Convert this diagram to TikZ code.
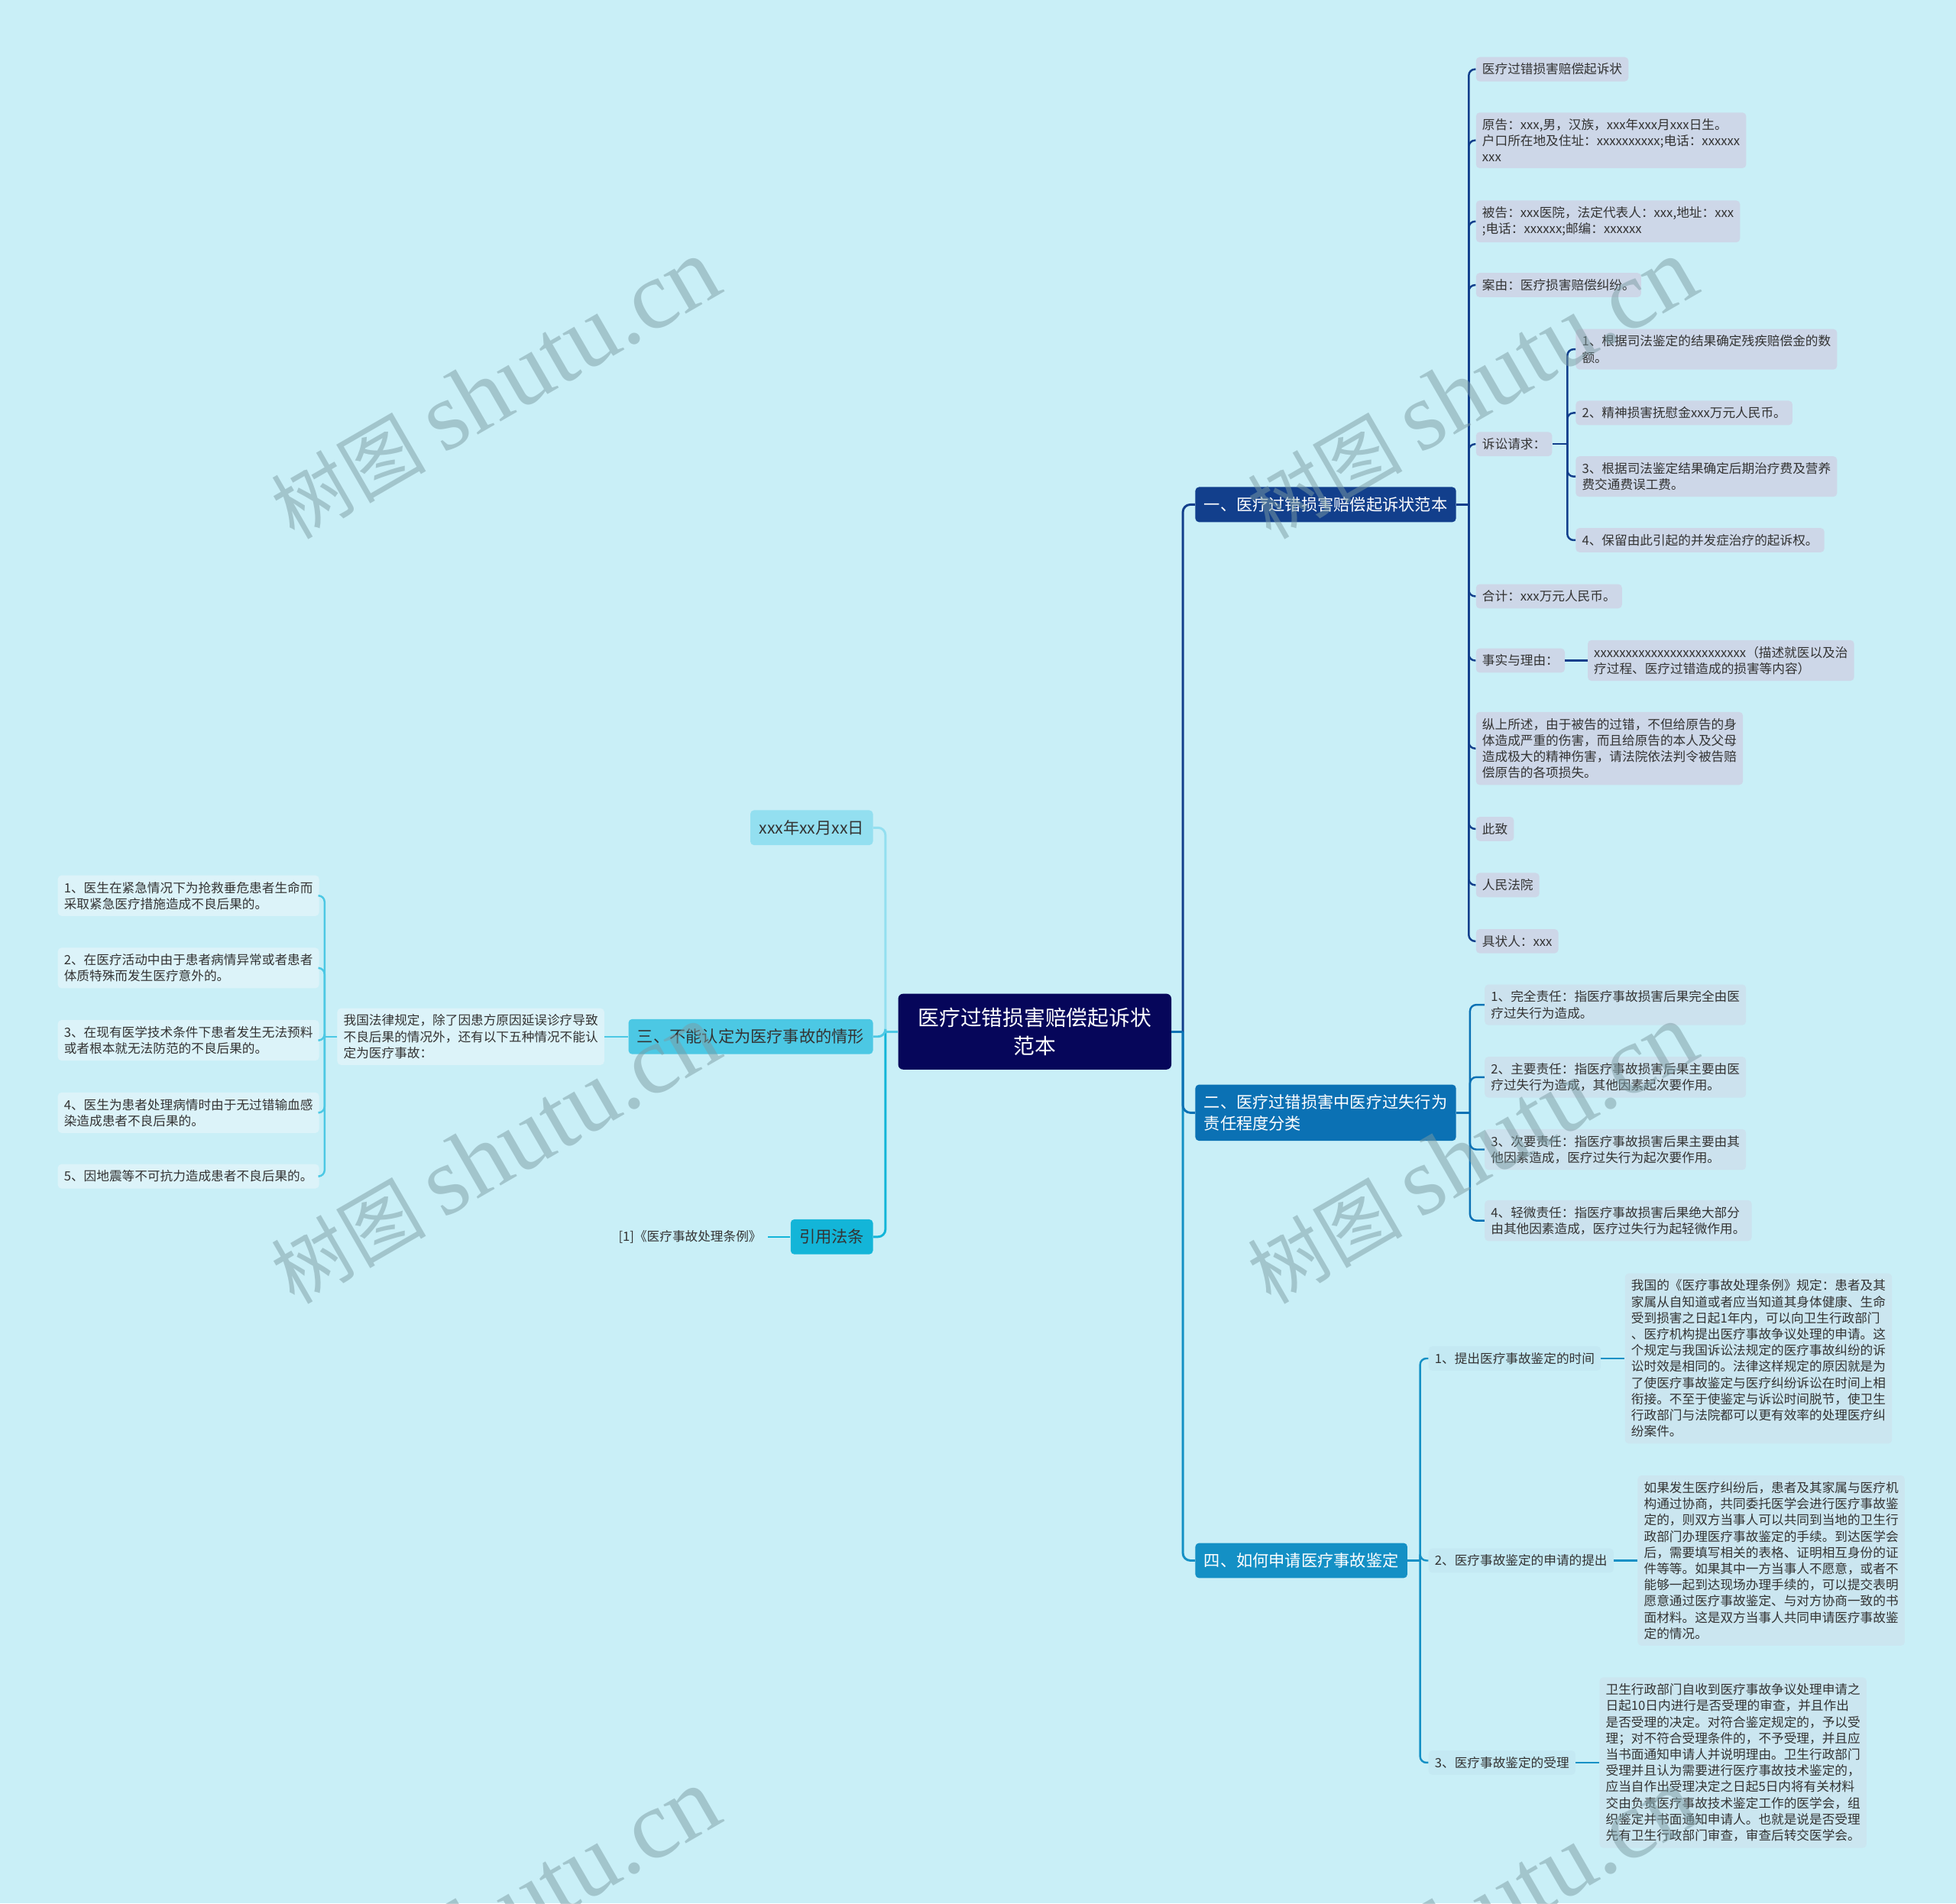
\documentclass[tikz,border=0pt]{standalone}
\usepackage{fontspec}
\setmainfont{Noto Sans CJK SC}
\newfontfamily\wmfont{Liberation Serif}
\usetikzlibrary{positioning}

\definecolor{bgcol}{HTML}{C9EFF7}
\definecolor{rootcol}{HTML}{06065A}
\definecolor{onecol}{HTML}{123F8C}
\definecolor{twocol}{HTML}{0B71B4}
\definecolor{fourcol}{HTML}{1490C5}
\definecolor{threecol}{HTML}{4CC8E4}
\definecolor{datecol}{HTML}{93DFF0}
\definecolor{lawcol}{HTML}{13B5D8}
\definecolor{oneleaf}{HTML}{CDD7E8}
\definecolor{twoleaf}{HTML}{CCE2EE}
\definecolor{fourleaf}{HTML}{C4E9F3}
\definecolor{fourtext}{HTML}{CBE6F0}
\definecolor{threeleaf}{HTML}{DCF3F9}
\definecolor{inkcol}{HTML}{333333}
\definecolor{markcol}{HTML}{7C9CA3}

\tikzset{
  rootbox/.style={fill=rootcol, text=white, rounded corners=4pt, inner xsep=16pt, inner ysep=11pt, align=center, font=\fontsize{17}{23}\selectfont},
  mainbox/.style={rounded corners=3pt, inner xsep=7pt, inner ysep=8pt, align=left, font=\fontsize{13}{17}\selectfont},
  leafbox/.style={rounded corners=3pt, inner xsep=5pt, inner ysep=5pt, align=left, text=inkcol, font=\fontsize{10.2}{13}\selectfont},
  link/.style={line width=1.8pt, rounded corners=6pt},
  sublink/.style={line width=1.5pt, rounded corners=5pt},
  watermark/.style={rotate=30, text=markcol, opacity=0.5}
}

\begin{document}
\begin{tikzpicture}[x=1pt,y=1pt,yscale=-1]
\fill[bgcol] (0,0) rectangle (1568,1526);
\useasboundingbox (0,0) rectangle (1568,1526);

% Root
\node[rootbox] (root) at (829.5,827) {医疗过错损害赔偿起诉状\\范本};

% Right branches
\node[mainbox, fill=onecol, text=white, anchor=west] (one) at (958,404.5) {一、医疗过错损害赔偿起诉状范本};
\node[mainbox, fill=twocol, text=white, anchor=west] (two) at (958,892) {二、医疗过错损害中医疗过失行为\\责任程度分类};
\node[mainbox, fill=fourcol, text=white, anchor=west] (four) at (958,1251) {四、如何申请医疗事故鉴定};

% Left branches
\node[mainbox, fill=datecol, text=inkcol, anchor=east] (date) at (700,663.5) {xxx年xx月xx日};
\node[mainbox, fill=threecol, text=inkcol, anchor=east] (three) at (700,831) {三、不能认定为医疗事故的情形};
\node[mainbox, fill=lawcol, text=inkcol, anchor=east] (law) at (700,991.5) {引用法条};

% Leaves of branch one
\node[leafbox, fill=oneleaf, anchor=west] (o1) at (1183,55.5) {医疗过错损害赔偿起诉状};
\node[leafbox, fill=oneleaf, anchor=west] (o2) at (1183,112.5) {原告：xxx,男，汉族，xxx年xxx月xxx日生。\\户口所在地及住址：xxxxxxxxxx;电话：xxxxxx\\xxx};
\node[leafbox, fill=oneleaf, anchor=west] (o3) at (1183,177.5) {被告：xxx医院，法定代表人：xxx,地址：xxx\\;电话：xxxxxx;邮编：xxxxxx};
\node[leafbox, fill=oneleaf, anchor=west] (o4) at (1183,228.5) {案由：医疗损害赔偿纠纷。};
\node[leafbox, fill=oneleaf, anchor=west] (o5) at (1183,356) {诉讼请求：};
\node[leafbox, fill=oneleaf, anchor=west] (o6) at (1183,478) {合计：xxx万元人民币。};
\node[leafbox, fill=oneleaf, anchor=west] (o7) at (1183,529.5) {事实与理由：};
\node[leafbox, fill=oneleaf, anchor=west] (o8) at (1183,600) {纵上所述，由于被告的过错，不但给原告的身\\体造成严重的伤害，而且给原告的本人及父母\\造成极大的精神伤害，请法院依法判令被告赔\\偿原告的各项损失。};
\node[leafbox, fill=oneleaf, anchor=west] (o9) at (1183,664.5) {此致};
\node[leafbox, fill=oneleaf, anchor=west] (o10) at (1183,709.5) {人民法院};
\node[leafbox, fill=oneleaf, anchor=west] (o11) at (1183,754.5) {具状人：xxx};

% Claims and reasons
\node[leafbox, fill=oneleaf, anchor=west] (c1) at (1263,280) {1、根据司法鉴定的结果确定残疾赔偿金的数\\额。};
\node[leafbox, fill=oneleaf, anchor=west] (c2) at (1263,331) {2、精神损害抚慰金xxx万元人民币。};
\node[leafbox, fill=oneleaf, anchor=west] (c3) at (1263,382) {3、根据司法鉴定结果确定后期治疗费及营养\\费交通费误工费。};
\node[leafbox, fill=oneleaf, anchor=west] (c4) at (1263,433) {4、保留由此引起的并发症治疗的起诉权。};
\node[leafbox, fill=oneleaf, right=18pt of o7] (r1) {xxxxxxxxxxxxxxxxxxxxxxxx（描述就医以及治\\疗过程、医疗过错造成的损害等内容）};

% Leaves of branch two
\node[leafbox, fill=twoleaf, anchor=west] (t1) at (1190,805.5) {1、完全责任：指医疗事故损害后果完全由医\\疗过失行为造成。};
\node[leafbox, fill=twoleaf, anchor=west] (t2) at (1190,863.5) {2、主要责任：指医疗事故损害后果主要由医\\疗过失行为造成，其他因素起次要作用。};
\node[leafbox, fill=twoleaf, anchor=west] (t3) at (1190,921.5) {3、次要责任：指医疗事故损害后果主要由其\\他因素造成，医疗过失行为起次要作用。};
\node[leafbox, fill=twoleaf, anchor=west] (t4) at (1190,978.5) {4、轻微责任：指医疗事故损害后果绝大部分\\由其他因素造成，医疗过失行为起轻微作用。};

% Leaves of branch four
\node[leafbox, fill=fourleaf, anchor=west] (f1) at (1145,1089) {1、提出医疗事故鉴定的时间};
\node[leafbox, fill=fourleaf, anchor=west] (f2) at (1145,1251) {2、医疗事故鉴定的申请的提出};
\node[leafbox, fill=fourleaf, anchor=west] (f3) at (1145,1413) {3、医疗事故鉴定的受理};
\node[leafbox, fill=fourtext, right=19pt of f1] (g1) {我国的《医疗事故处理条例》规定：患者及其\\家属从自知道或者应当知道其身体健康、生命\\受到损害之日起1年内，可以向卫生行政部门\\、医疗机构提出医疗事故争议处理的申请。这\\个规定与我国诉讼法规定的医疗事故纠纷的诉\\讼时效是相同的。法律这样规定的原因就是为\\了使医疗事故鉴定与医疗纠纷诉讼在时间上相\\衔接。不至于使鉴定与诉讼时间脱节，使卫生\\行政部门与法院都可以更有效率的处理医疗纠\\纷案件。};
\node[leafbox, fill=fourtext, right=19pt of f2] (g2) {如果发生医疗纠纷后，患者及其家属与医疗机\\构通过协商，共同委托医学会进行医疗事故鉴\\定的，则双方当事人可以共同到当地的卫生行\\政部门办理医疗事故鉴定的手续。到达医学会\\后，需要填写相关的表格、证明相互身份的证\\件等等。如果其中一方当事人不愿意，或者不\\能够一起到达现场办理手续的，可以提交表明\\愿意通过医疗事故鉴定、与对方协商一致的书\\面材料。这是双方当事人共同申请医疗事故鉴\\定的情况。};
\node[leafbox, fill=fourtext, right=19pt of f3] (g3) {卫生行政部门自收到医疗事故争议处理申请之\\日起10日内进行是否受理的审查，并且作出\\是否受理的决定。对符合鉴定规定的，予以受\\理；对不符合受理条件的，不予受理，并且应\\当书面通知申请人并说明理由。卫生行政部门\\受理并且认为需要进行医疗事故技术鉴定的，\\应当自作出受理决定之日起5日内将有关材料\\交由负责医疗事故技术鉴定工作的医学会，组\\织鉴定并书面通知申请人。也就是说是否受理\\先有卫生行政部门审查，审查后转交医学会。};

% Leaves of branch three
\node[leafbox, fill=threeleaf, left=19pt of three] (h0) {我国法律规定，除了因患方原因延误诊疗导致\\不良后果的情况外，还有以下五种情况不能认\\定为医疗事故：};
\node[leafbox, fill=threeleaf, anchor=east] (h1) at (256,718) {1、医生在紧急情况下为抢救垂危患者生命而\\采取紧急医疗措施造成不良后果的。};
\node[leafbox, fill=threeleaf, anchor=east] (h2) at (256,776) {2、在医疗活动中由于患者病情异常或者患者\\体质特殊而发生医疗意外的。};
\node[leafbox, fill=threeleaf, anchor=east] (h3) at (256,834) {3、在现有医学技术条件下患者发生无法预料\\或者根本就无法防范的不良后果的。};
\node[leafbox, fill=threeleaf, anchor=east] (h4) at (256,892) {4、医生为患者处理病情时由于无过错输血感\\染造成患者不良后果的。};
\node[leafbox, fill=threeleaf, anchor=east] (h5) at (256,943) {5、因地震等不可抗力造成患者不良后果的。};

% Law reference
\node[leafbox, left=18pt of law] (w1) {[1]《医疗事故处理条例》};

% Junctions
\coordinate (rj) at ([xshift=9pt]root.east);
\coordinate (lj) at ([xshift=-10pt]root.west);
\coordinate (onej) at ([xshift=10pt]one.east);
\coordinate (twoj) at ([xshift=11pt]two.east);
\coordinate (fourj) at ([xshift=10pt]four.east);
\coordinate (claimj) at ([xshift=12pt]o5.east);
\coordinate (threej) at ([xshift=-10pt]h0.west);

% Root connectors
\draw[link, fourcol] (rj) |- (four.west);
\draw[link, twocol] (rj) |- (two.west);
\draw[link, onecol] (rj) |- (one.west);
\draw[link, twocol] (root.east) -- (rj);
\draw[link, lawcol] (lj) |- (law.east);
\draw[link, datecol] (lj) |- (date.east);
\draw[link, threecol] (lj) |- (three.east);
\draw[link, threecol] (root.west) -- (lj);

% Branch one connectors
\draw[sublink, onecol] (one.east) -- (onej);
\draw[sublink, onecol] (onej) |- (o1.west);
\draw[sublink, onecol] (onej) |- (o2.west);
\draw[sublink, onecol] (onej) |- (o3.west);
\draw[sublink, onecol] (onej) |- (o4.west);
\draw[sublink, onecol] (onej) |- (o5.west);
\draw[sublink, onecol] (onej) |- (o6.west);
\draw[sublink, onecol] (onej) |- (o7.west);
\draw[sublink, onecol] (onej) |- (o8.west);
\draw[sublink, onecol] (onej) |- (o9.west);
\draw[sublink, onecol] (onej) |- (o10.west);
\draw[sublink, onecol] (onej) |- (o11.west);
\draw[sublink, onecol] (o5.east) -- (claimj);
\draw[sublink, onecol] (claimj) |- (c1.west);
\draw[sublink, onecol] (claimj) |- (c2.west);
\draw[sublink, onecol] (claimj) |- (c3.west);
\draw[sublink, onecol] (claimj) |- (c4.west);
\draw[sublink, onecol] (o7.east) -- (r1.west);

% Branch two connectors
\draw[sublink, twocol] (two.east) -- (twoj);
\draw[sublink, twocol] (twoj) |- (t1.west);
\draw[sublink, twocol] (twoj) |- (t2.west);
\draw[sublink, twocol] (twoj) |- (t3.west);
\draw[sublink, twocol] (twoj) |- (t4.west);

% Branch four connectors
\draw[sublink, fourcol] (four.east) -- (fourj);
\draw[sublink, fourcol] (fourj) |- (f1.west);
\draw[sublink, fourcol] (fourj) |- (f2.west);
\draw[sublink, fourcol] (fourj) |- (f3.west);
\draw[sublink, fourcol] (f1.east) -- (g1.west);
\draw[sublink, fourcol] (f2.east) -- (g2.west);
\draw[sublink, fourcol] (f3.east) -- (g3.west);

% Branch three connectors
\draw[sublink, threecol] (three.west) -- (h0.east);
\draw[sublink, threecol] (threej) |- (h1.east);
\draw[sublink, threecol] (threej) |- (h2.east);
\draw[sublink, threecol] (threej) |- (h3.east);
\draw[sublink, threecol] (threej) |- (h4.east);
\draw[sublink, threecol] (threej) |- (h5.east);
\draw[sublink, threecol] (h0.west) -- (threej);
\draw[sublink, lawcol] (law.west) -- (w1.east);

% Watermarks
\node[watermark] (m1) at (397,312) {\fontsize{62}{62}\selectfont 树图 \wmfont\fontsize{78}{78}\selectfont shutu.cn};
\node[watermark] (m2) at (1180,312) {\fontsize{62}{62}\selectfont 树图 \wmfont\fontsize{78}{78}\selectfont shutu.cn};
\node[watermark] (m3) at (397,925) {\fontsize{62}{62}\selectfont 树图 \wmfont\fontsize{78}{78}\selectfont shutu.cn};
\node[watermark] (m4) at (1180,925) {\fontsize{62}{62}\selectfont 树图 \wmfont\fontsize{78}{78}\selectfont shutu.cn};
\node[watermark] (m5) at (397,1538) {\fontsize{62}{62}\selectfont 树图 \wmfont\fontsize{78}{78}\selectfont shutu.cn};
\node[watermark] (m6) at (1180,1538) {\fontsize{62}{62}\selectfont 树图 \wmfont\fontsize{78}{78}\selectfont shutu.cn};

\end{tikzpicture}
\end{document}
